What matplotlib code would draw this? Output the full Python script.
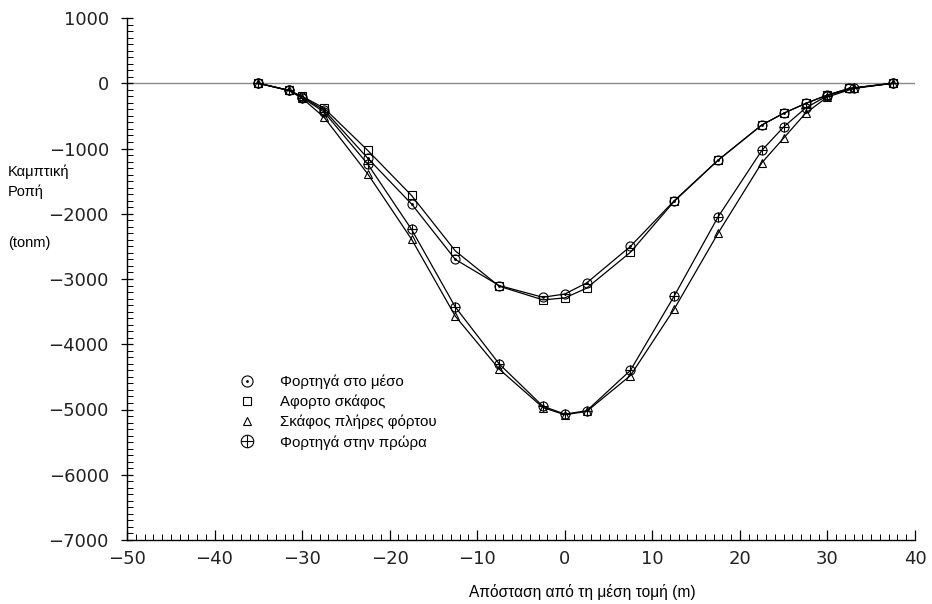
import matplotlib
matplotlib.use("Agg")
import matplotlib.pyplot as plt
from matplotlib.lines import Line2D
from matplotlib.ticker import MultipleLocator, FuncFormatter

# ---- data ----
x_mid = [-35, -31.5, -30, -27.5, -22.5, -17.5, -12.5, -7.5, -2.5, 0, 2.5, 7.5,
         12.5, 17.5, 22.5, 25, 27.5, 30, 32.5, 37.5]
y_mid = [0, -110, -210, -410, -1150, -1850, -2700, -3100, -3280, -3230, -3060,
         -2500, -1800, -1180, -640, -460, -310, -180, -80, 0]

x_empty = [-35, -31.5, -30, -27.5, -22.5, -17.5, -12.5, -7.5, -2.5, 0, 2.5, 7.5,
           12.5, 17.5, 22.5, 25, 27.5, 30, 32.5, 37.5]
y_empty = [0, -110, -200, -380, -1030, -1720, -2570, -3110, -3320, -3290, -3140,
           -2590, -1810, -1180, -640, -460, -310, -180, -80, 0]

x_full = [-35, -31.5, -30, -27.5, -22.5, -17.5, -12.5, -7.5, -2.5, 0, 2.5, 7.5,
          12.5, 17.5, 22.5, 25, 27.5, 30, 33, 37.5]
y_full = [0, -110, -230, -520, -1390, -2390, -3570, -4380, -4970, -5080, -5030,
          -4480, -3460, -2300, -1220, -840, -460, -210, -80, 0]

x_bow = [-35, -31.5, -30, -27.5, -22.5, -17.5, -12.5, -7.5, -2.5, 0, 2.5, 7.5,
         12.5, 17.5, 22.5, 25, 27.5, 30, 33, 37.5]
y_bow = [0, -110, -220, -440, -1240, -2240, -3430, -4300, -4950, -5070, -5020,
         -4400, -3260, -2050, -1030, -670, -380, -190, -70, 0]

labels = ["Φορτηγά στο μέσο", "Αφορτο σκάφος", "Σκάφος πλήρες φόρτου",
          "Φορτηγά στην πρώρα"]
x_ticks = [-50, -40, -30, -20, -10, 0, 10, 20, 30, 40]
y_ticks = [1000, 0, -1000, -2000, -3000, -4000, -5000, -6000, -7000]

# ---- figure ----
fig = plt.figure(figsize=(9.32, 6.04), dpi=100)
ax = fig.add_axes([127 / 932, 1 - 540 / 604, 788 / 932, 522 / 604])
ax.set_xlim(-50, 40)
ax.set_ylim(-7000, 1000)

for s in ["top", "right"]:
    ax.spines[s].set_visible(False)
for s in ["left", "bottom"]:
    ax.spines[s].set_linewidth(1.0)
    ax.spines[s].set_color("black")

ax.axhline(0, color="#8a8a8a", lw=1.0, zorder=1)

ms = 6.5
mk = dict(color="black", lw=0.9, mfc="none", mec="black", mew=0.8, ms=ms)

ax.plot(x_mid, y_mid, marker="o", **mk)
ax.plot(x_mid, y_mid, ls="none", marker=".", color="black", ms=2)

ax.plot(x_empty, y_empty, marker="s", **{**mk, "ms": ms - 1})

ax.plot(x_full, y_full, marker="^", **{**mk, "ms": ms - 1})

ax.plot(x_bow, y_bow, marker="o", **mk)
ax.plot(x_bow, y_bow, ls="none", marker="+", color="black", ms=ms, mew=0.8)

# ticks
ax.set_xticks(x_ticks)
ax.set_yticks(y_ticks)
ax.xaxis.set_minor_locator(MultipleLocator(1))
ax.yaxis.set_minor_locator(MultipleLocator(100))
ax.tick_params(axis="x", which="major", direction="in", length=7, width=0.9, pad=7,
               labelsize=13, colors="black", labelcolor="#222222")
ax.tick_params(axis="x", which="minor", direction="in", length=4, width=0.7)
ax.tick_params(axis="y", which="major", direction="inout", length=8, width=0.9, pad=9,
               labelsize=13, colors="black", labelcolor="#222222")
ax.tick_params(axis="y", which="minor", direction="in", length=4, width=0.7)
ax.yaxis.set_major_formatter(FuncFormatter(lambda v, p: f"{int(v)}".replace("-", "\u2212")))
ax.xaxis.set_major_formatter(FuncFormatter(lambda v, p: f"{int(v)}".replace("-", "\u2212")))
for t in ax.get_xticklabels() + ax.get_yticklabels():
    t.set_fontfamily("DejaVu Sans")

# legend
h_mid = (Line2D([], [], ls="none", marker="o", mfc="none", mec="black", mew=0.8, ms=8),
         Line2D([], [], ls="none", marker=".", color="black", ms=2))
h_empty = Line2D([], [], ls="none", marker="s", mfc="none", mec="black", mew=0.8, ms=6)
h_full = Line2D([], [], ls="none", marker="^", mfc="none", mec="black", mew=0.8, ms=6)
h_bow = (Line2D([], [], ls="none", marker="o", mfc="none", mec="black", mew=0.8, ms=9),
         Line2D([], [], ls="none", marker="+", color="black", mew=0.8, ms=9))
leg = ax.legend([h_mid, h_empty, h_full, h_bow], labels, loc="upper left",
                bbox_to_anchor=(224 / 932, 1 - 361 / 604), bbox_transform=fig.transFigure,
                frameon=False, handlelength=1.2, handletextpad=1.6, labelspacing=0.38,
                prop={"family": "Liberation Sans", "size": 10.8})

# axis labels
fig.text(8 / 932, 1 - 172 / 604, "Καμπτική", ha="left", va="center",
         family="Liberation Sans", fontsize=10.5)
fig.text(8 / 932, 1 - 192 / 604, "Ροπή", ha="left", va="center",
         family="Liberation Sans", fontsize=10.5)
fig.text(8 / 932, 1 - 243 / 604, "(tonm)", ha="left", va="center",
         family="Liberation Sans", fontsize=10.5)
fig.text(582 / 932, 1 - 592 / 604, "Απόσταση από τη μέση τομή (m)", ha="center",
         va="center", family="Liberation Sans", fontsize=11.2)

fig.savefig("out.png", dpi=100)
